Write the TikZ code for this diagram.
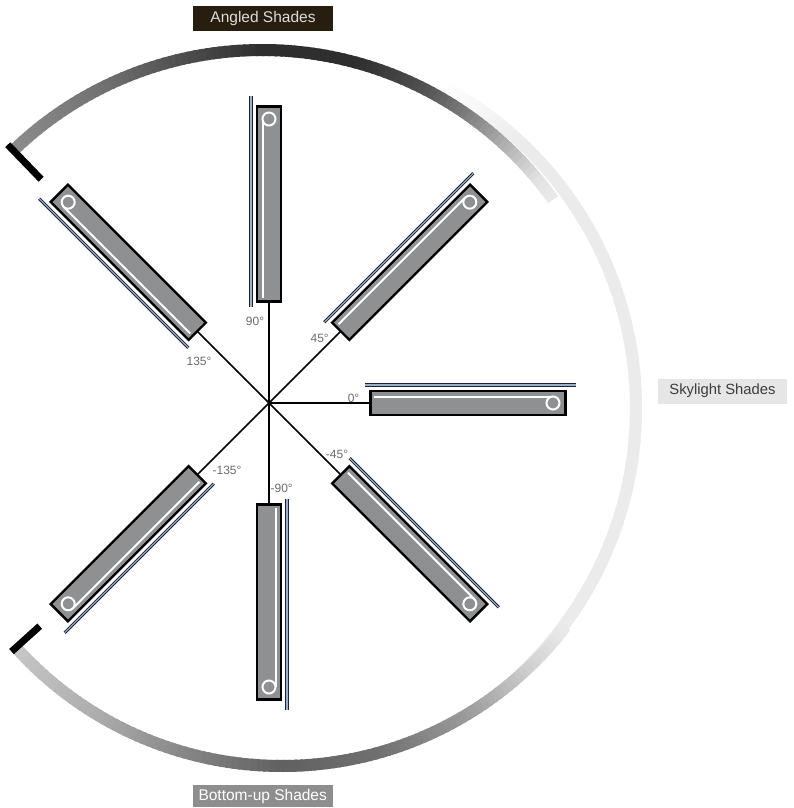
\documentclass[tikz,border=0pt]{standalone}
\usepackage{fontspec}
\setmainfont{Liberation Sans}
\definecolor{shadegray}{HTML}{8E9092}
\definecolor{raildark}{HTML}{1C2233}
\definecolor{raillight}{HTML}{9CB0CC}
\definecolor{labelgray}{HTML}{6A6A6A}
\definecolor{titledark}{HTML}{281E10}
\definecolor{titletext}{HTML}{DCDCDC}
\definecolor{skyfill}{HTML}{E6E6E6}
\definecolor{skytext}{HTML}{3C3C3C}
\definecolor{bottomfill}{HTML}{8E8E8E}
\tikzset{
  shadebox/.style={fill=shadegray, draw=black, line width=2.4pt},
  rail/.style={draw=raildark, double=raillight, double distance=1.1pt, line width=1pt},
  whiteline/.style={draw=white, line width=2pt},
  ringstyle/.style={draw=white, line width=2pt, fill=shadegray},
  ray/.style={line width=1.5pt, draw=black},
  capbar/.style={line width=7pt, draw=black},
  anglabel/.style={text=labelgray, font=\fontsize{12}{12}\selectfont, inner sep=0pt},
  titlebox/.style={minimum width=140pt, minimum height=25pt, inner sep=0pt, font=\fontsize{15.5}{16}\selectfont},
}
\begin{document}
\begin{tikzpicture}[x=1pt,y=1pt]
\useasboundingbox (0,0) rectangle (793,-808);
\coordinate (C) at (269,-403);
\coordinate (U) at (262,-408);
\coordinate (L) at (282,-408);
\coordinate (R) at (272,-408);

% light right arc (fades in and out)
\foreach \sa/\ea/\sc/\ec in {62/46/0/8, 46/-44/8/8, -44/-54/8/3}{
  \pgfmathtruncatemacro\n{abs(\ea-\sa)}
  \foreach \i in {1,...,\n}{
    \pgfmathsetmacro\aa{\sa+(\ea-\sa)*(\i-1)/\n}
    \pgfmathsetmacro\bb{\sa+(\ea-\sa)*(\i+0.4)/\n}
    \pgfmathsetmacro\cc{\sc+(\ec-\sc)*(\i-0.5)/\n}
    \draw[line width=12pt, color=black!\cc] ([shift={(\aa:364)}]R) arc[start angle=\aa, end angle=\bb, radius=364];
  }
}

% upper arc with gradient
\foreach \sa/\ea/\sc/\ec in {134/117/45/55, 117/100/55/72, 100/90/72/82, 90/75/82/82, 75/63/82/68, 63/54/68/48, 54/46/48/28, 46/40/28/12, 40/36/12/8}{
  \pgfmathtruncatemacro\n{abs(\ea-\sa)}
  \foreach \i in {1,...,\n}{
    \pgfmathsetmacro\aa{\sa+(\ea-\sa)*(\i-1)/\n}
    \pgfmathsetmacro\bb{\sa+(\ea-\sa)*(\i+0.4)/\n}
    \pgfmathsetmacro\cc{\sc+(\ec-\sc)*(\i-0.5)/\n}
    \draw[line width=12pt, color=black!\cc] ([shift={(\aa:358)}]U) arc[start angle=\aa, end angle=\bb, radius=358];
  }
}
% lower arc with gradient
\foreach \sa/\ea/\sc/\ec in {222/240/22/33, 240/257/33/50, 257/270/50/62, 270/286/62/56, 286/302/56/38, 302/314/38/18, 314/322/18/8}{
  \pgfmathtruncatemacro\n{abs(\ea-\sa)}
  \foreach \i in {1,...,\n}{
    \pgfmathsetmacro\aa{\sa+(\ea-\sa)*(\i-1)/\n}
    \pgfmathsetmacro\bb{\sa+(\ea-\sa)*(\i+0.4)/\n}
    \pgfmathsetmacro\cc{\sc+(\ec-\sc)*(\i-0.5)/\n}
    \draw[line width=12pt, color=black!\cc] ([shift={(\aa:358)}]L) arc[start angle=\aa, end angle=\bb, radius=358];
  }
}
% end caps
\draw[capbar] ([shift={(134:366)}]U) -- ([shift={(134:318)}]U);
\draw[capbar] ([shift={(222:364)}]L) -- ([shift={(222:326)}]L);

% rays and shades
\foreach \ang in {90,45,0,-45,-90,-135,135}{
  \draw[ray] (C) -- ([shift={(\ang:101.5)}]C);
  \begin{scope}[shift={(C)}, rotate=\ang]
    \draw[rail] (96,18) -- (307,18);
    \draw[shadebox] (101.5,-12.2) rectangle (296.5,12.2);
    \draw[whiteline] (105,6.5) -- (284,6.5);
    \draw[ringstyle] (284,0) circle[radius=6.5];
  \end{scope}
}

% angle labels
\node[anglabel] (l90) at (255,-321) {90°};
\node[anglabel] (l45) at (319.7,-338) {45°};
\node[anglabel] (l0) at (353.5,-398) {0°};
\node[anglabel] (l135) at (199,-361) {135°};
\node[anglabel] (lm45) at (337,-454) {-45°};
\node[anglabel] (lm90) at (281.7,-488) {-90°};
\node[anglabel] (lm135) at (227,-470) {-135°};

% titles
\node[titlebox, fill=titledark, text=titletext] (angled) at (263,-18.7) {Angled Shades};
\node[titlebox, minimum width=129pt, fill=skyfill, text=skytext, font=\fontsize{14.8}{15}\selectfont] (sky) at (722.5,-391) {Skylight Shades};
\node[titlebox, minimum height=22.5pt, fill=bottomfill, text=white] (bottom) at (262.7,-796) {Bottom-up Shades};
\end{tikzpicture}
\end{document}
